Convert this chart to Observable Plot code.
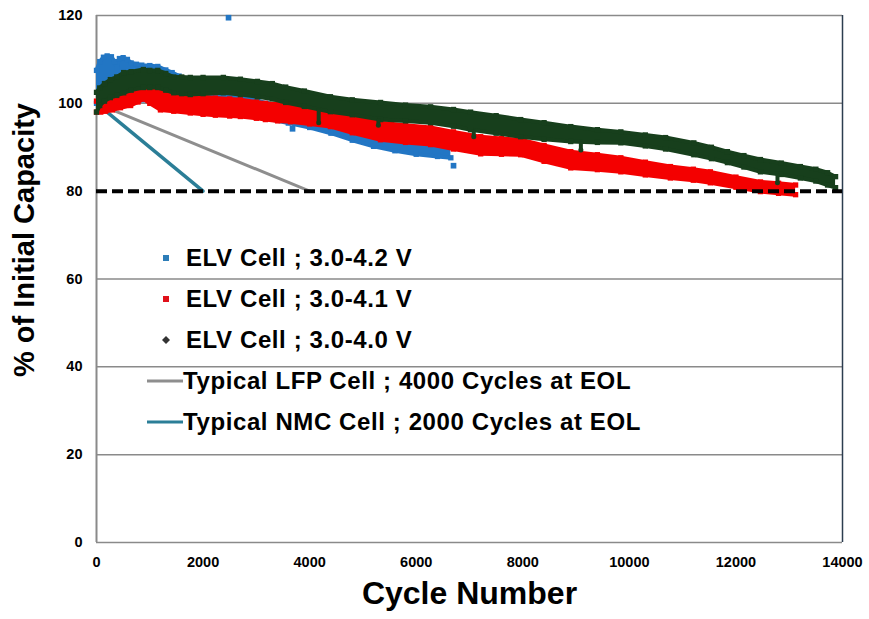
<!DOCTYPE html>
<html><head><meta charset="utf-8">
<script src="https://cdn.jsdelivr.net/npm/d3@7"></script>
<script src="https://cdn.jsdelivr.net/npm/@observablehq/plot@0.6"></script>
<style>
body{margin:0;background:#fff;}
#wrap{position:relative;width:869px;height:619px;font-family:"Liberation Sans",Arial,sans-serif;}
.leg{position:absolute;font-weight:bold;font-size:24px;letter-spacing:0.6px;color:#000;white-space:nowrap;line-height:1;transform:translateY(-50%);}
.mk{position:absolute;transform:translate(-50%,-50%);line-height:0;}
</style></head><body><div id="wrap"></div>
<script>
// ---- data ----
const xTicks = [0, 2000, 4000, 6000, 8000, 10000, 12000, 14000];
const yTicks = [0, 20, 40, 60, 80, 100, 120];
const gridLevels = [20, 40, 60, 100, 120];
const eolLevel = 80;

const seriesNames = ["ELV Cell ; 3.0-4.2 V", "ELV Cell ; 3.0-4.1 V", "ELV Cell ; 3.0-4.0 V",
  "Typical LFP Cell ; 4000 Cycles at EOL", "Typical NMC Cell ; 2000 Cycles at EOL"];

// ELV 3.0-4.2 V (band: lower / upper edge of the scatter)
const blueCycles = [0, 60, 130, 200, 280, 340, 380, 430, 500, 580, 650, 750, 850, 1000, 1150, 1300, 1420, 1550, 1700, 2000, 2400, 2800, 3200, 3600, 4000, 4400, 4800, 5200, 5600, 6000, 6400, 6650];
const blueUpper = [107.5, 109.5, 110.5, 110.8, 110.6, 109.5, 108.2, 110.2, 110.4, 110.0, 109.2, 108.9, 108.7, 108.6, 108.4, 107.6, 107.0, 106.2, 105.0, 104.0, 103.0, 101.5, 100.0, 98.5, 97.0, 95.5, 94.5, 93.8, 93.0, 92.3, 91.8, 91.2];
const blueLower = [100.0, 100.3, 100.8, 101.0, 101.2, 101.3, 101.5, 101.5, 101.5, 101.5, 101.3, 101.0, 100.8, 100.5, 100.2, 100.0, 99.6, 99.3, 99.0, 98.5, 97.8, 97.2, 96.5, 95.5, 94.5, 93.2, 91.6, 90.2, 89.2, 88.4, 87.9, 87.6];
const blueOutCycles = [2478, 3679, 6700];
const blueOutValues = [119.5, 94.2, 85.8];

// ELV 3.0-4.1 V
const redCycles = [0, 80, 170, 300, 450, 640, 780, 880, 1000, 1200, 1450, 1760, 2000, 2230, 2500, 2700, 3000, 3170, 3400, 3640, 4000, 4390, 4800, 5330, 5800, 6270, 6700, 7210, 7600, 7960, 8400, 8900, 9400, 9840, 10300, 10770, 11200, 11520, 12000, 12460, 12800, 13120];
const redUpper = [100.5, 100.8, 101.0, 101.4, 101.6, 102.0, 102.8, 103.6, 103.2, 102.8, 102.3, 101.8, 101.5, 101.2, 101.0, 100.8, 100.3, 100.0, 99.8, 99.5, 98.7, 97.9, 96.8, 95.6, 95.0, 94.5, 93.5, 92.4, 92.0, 91.7, 90.4, 89.0, 88.3, 87.6, 86.6, 85.6, 85.0, 84.4, 83.2, 82.1, 81.8, 81.4];
const redLower = [98.0, 98.0, 98.2, 98.5, 99.0, 99.5, 100.3, 101.0, 100.0, 98.5, 98.2, 97.8, 97.5, 97.3, 97.1, 97.0, 96.6, 96.3, 96.0, 95.8, 95.3, 94.7, 93.3, 91.7, 91.1, 90.6, 89.6, 88.5, 88.4, 88.3, 86.8, 85.3, 84.9, 84.4, 83.7, 83.0, 82.5, 81.9, 80.9, 79.9, 79.5, 79.2];

// ELV 3.0-4.0 V
const greenCycles = [0, 60, 150, 260, 380, 510, 650, 880, 1000, 1150, 1300, 1450, 1600, 1760, 2000, 2380, 2700, 3020, 3300, 3550, 3900, 4390, 4800, 5330, 5800, 6270, 6700, 7020, 7500, 7960, 8400, 8900, 9400, 9840, 10300, 10680, 11210, 11540, 11840, 12150, 12460, 12850, 13210, 13500, 13720, 13870];
const greenUpper = [102.5, 103.5, 104.5, 105.4, 106.0, 107.0, 107.2, 107.7, 107.5, 107.5, 106.8, 106.0, 106.0, 105.9, 105.9, 105.9, 105.5, 105.0, 104.5, 103.7, 102.8, 101.5, 100.8, 100.2, 99.6, 99.2, 98.6, 98.0, 97.2, 96.3, 95.6, 94.7, 94.0, 93.5, 92.8, 92.2, 91.0, 90.0, 89.0, 88.1, 87.2, 86.4, 85.6, 85.0, 84.2, 83.3];
const greenLower = [98.0, 99.5, 100.5, 101.3, 101.8, 102.4, 103.0, 103.6, 103.6, 103.6, 103.0, 102.4, 102.2, 102.0, 102.2, 102.4, 102.0, 101.5, 101.0, 100.2, 99.3, 98.1, 97.4, 96.3, 96.0, 95.6, 94.8, 94.0, 93.2, 92.4, 91.8, 91.3, 91.1, 91.0, 90.3, 89.6, 88.3, 87.4, 86.5, 85.5, 84.4, 83.8, 83.0, 82.3, 81.4, 80.8];
const greenDipCycles = [4170, 5290, 7080, 9090, 12780];
const greenDipValues = [95.6, 95.0, 92.4, 89.4, 81.9];

// typical reference cells
const lfpCycles = [0, 4000];
const lfpValues = [100, 80];
const nmcCycles = [0, 2000];
const nmcValues = [100, 80];

// ---- styles ----
const C = {blue: "#2276c4", red: "#f40000", green: "#173f1c", lfp: "#8e8e8e", nmc: "#2b7e97", grid: "#8a8a8a"};

const band = (cyc, up, lo) => cyc.map((c, i) => ({c, up: up[i], lo: lo[i]}));
const pts = (cyc, v) => cyc.map((c, i) => ({c, v: v[i]}));
const blue = band(blueCycles, blueUpper, blueLower);
const red = band(redCycles, redUpper, redLower);
const green = band(greenCycles, greenUpper, greenLower);
const interp = (cyc, vals, c) => { const i = d3.bisectRight(cyc, c) - 1; const t = (c - cyc[i]) / (cyc[i+1] - cyc[i]); return vals[i] + t * (vals[i+1] - vals[i]); };
const dips = greenDipCycles.map((c, i) => ({c, v: greenDipValues[i], top: interp(greenCycles, greenLower, c)}));

function bandMarks(data, color) {
  return [
    Plot.areaY(data, {x: "c", y1: "lo", y2: "up", fill: color}),
    Plot.line(data, {x: "c", y: "up", stroke: color, strokeWidth: 4}),
    Plot.line(data, {x: "c", y: "lo", stroke: color, strokeWidth: 4}),
    Plot.dot(data, {x: "c", y: "up", symbol: "square", r: 3, fill: color}),
    Plot.dot(data, {x: "c", y: "lo", symbol: "square", r: 3, fill: color})
  ];
}

const chart = Plot.plot({
  width: 869, height: 619,
  marginLeft: 96, marginRight: 27, marginTop: 15, marginBottom: 77,
  style: {fontFamily: '"Liberation Sans", Arial, sans-serif', fontWeight: "bold", fontSize: "14.5px", color: "#000", background: "#fff"},
  x: {domain: [0, 14000], ticks: xTicks, tickFormat: d => String(d), tickSize: 0, tickPadding: 14, label: null},
  y: {domain: [0, 120], ticks: yTicks, tickFormat: d => String(d), tickSize: 0, tickPadding: 14, label: null},
  marks: [
    Plot.ruleY(gridLevels, {stroke: C.grid, strokeWidth: 1.5}),
    Plot.ruleY([0], {stroke: C.grid, strokeWidth: 1.5}),
    Plot.ruleX([0], {stroke: C.grid, strokeWidth: 2}),
    Plot.ruleX([14000], {stroke: "#2c3d4f", strokeWidth: 1.5}),
    Plot.line(pts(lfpCycles, lfpValues), {x: "c", y: "v", stroke: C.lfp, strokeWidth: 3}),
    Plot.line(pts(nmcCycles, nmcValues), {x: "c", y: "v", stroke: C.nmc, strokeWidth: 3.5}),
    ...bandMarks(blue, C.blue),
    Plot.dot(pts(blueOutCycles, blueOutValues), {x: "c", y: "v", symbol: "square", r: 3.2, fill: C.blue}),
    ...bandMarks(red, C.red),
    ...bandMarks(green, C.green),
    Plot.ruleX(dips, {x: "c", y1: "v", y2: "top", stroke: C.green, strokeWidth: 4}),
    Plot.dot(dips, {x: "c", y: "v", r: 2.5, fill: C.green}),
    Plot.ruleY([eolLevel], {stroke: "#000", strokeWidth: 4, strokeDasharray: "11,5"}),
    Plot.text(["Cycle Number"], {frameAnchor: "bottom", dy: 61, fontSize: 32, fontWeight: "bold"}),
    Plot.text(["% of Initial Capacity"], {frameAnchor: "left", textAnchor: "middle", rotate: -90, dx: -72, dy: -39, fontSize: 29, fontWeight: "bold"})
  ]
});

const wrap = document.getElementById("wrap");
wrap.appendChild(chart);

// ---- legend (inside the plot area) ----
const rowsY = [258, 299, 340, 381, 422];
const markers = [
  `<svg width="8" height="8"><rect x="1" y="1" width="6" height="6" fill="#2d7db8"/></svg>`,
  `<svg width="8" height="8"><rect x="1" y="1" width="6" height="6" fill="#e0101a"/></svg>`,
  `<svg width="8" height="8"><path d="M4 0 L8 4 L4 8 L0 4Z" fill="#333"/></svg>`,
  `<svg width="36" height="6"><line x1="0" y1="3" x2="36" y2="3" stroke="${C.lfp}" stroke-width="3"/></svg>`,
  `<svg width="36" height="6"><line x1="0" y1="3" x2="36" y2="3" stroke="${C.nmc}" stroke-width="3"/></svg>`
];
seriesNames.forEach((name, i) => {
  const m = document.createElement("div");
  m.className = "mk";
  m.style.left = (i < 3 ? 166 : 165) + "px";
  m.style.top = rowsY[i] + "px";
  m.innerHTML = markers[i];
  wrap.appendChild(m);
  const t = document.createElement("div");
  t.className = "leg";
  t.style.left = (i < 3 ? 186 : 183) + "px";
  t.style.top = rowsY[i] + "px";
  t.textContent = name;
  wrap.appendChild(t);
});
</script>
</body></html>
